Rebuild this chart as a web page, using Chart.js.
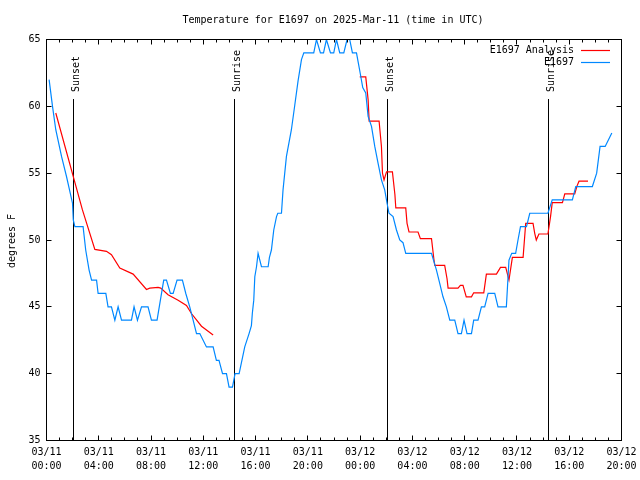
<!DOCTYPE html>
<html>
<head>
<meta charset="utf-8">
<title>Temperature for E1697</title>
<script src="https://cdn.jsdelivr.net/npm/chart.js@4.4.1/dist/chart.umd.min.js"></script>
<style>
  html, body { margin: 0; padding: 0; background: #fff; }
  canvas { display: block; }
</style>
</head>
<body>
<canvas id="chart" width="640" height="480"></canvas>
<script>
// hours since 03/11 00:00 UTC
const obsHours = [0.2, 0.46, 0.71, 1.15, 1.53, 1.99, 2.05, 2.17, 2.8, 3.0, 3.26, 3.45, 3.83, 3.95, 4.54, 4.71, 4.97,
  5.23, 5.48, 5.74, 6.5, 6.7, 6.96, 7.27, 7.77, 8.03, 8.46, 8.97, 9.18, 9.48, 9.69, 9.99, 10.4, 10.66, 10.96,
  11.22, 11.48, 11.73, 12.24, 12.75, 13.0, 13.2, 13.47, 13.77, 13.97, 14.23, 14.43, 14.74, 15.17, 15.5, 15.68,
  15.75, 15.86, 15.94, 16.07, 16.19, 16.45, 16.96, 17.06, 17.21, 17.39, 17.6, 17.7, 17.98, 18.1, 18.36, 18.74,
  19.0, 19.25, 19.51, 19.69, 20.45, 20.66, 20.96, 21.2, 21.42, 21.73, 21.98, 22.19, 22.44, 22.75, 23.0, 23.2,
  23.41, 23.72, 23.85, 24.02, 24.2, 24.43, 24.61, 24.87, 25.12, 25.37, 25.63, 25.88, 26.06, 26.21, 26.52, 26.78,
  27.03, 27.28, 27.49, 29.46, 29.84, 30.09, 30.34, 30.6, 30.86, 31.24, 31.49, 31.75, 31.95, 32.18, 32.52, 32.69,
  33.02, 33.28, 33.53, 33.79, 34.3, 34.55, 35.19, 35.39, 35.6, 35.9, 36.08, 36.27, 36.73, 36.98, 38.37, 38.7,
  40.24, 40.5, 41.77, 42.1, 42.36, 42.75, 43.26];
const obsTemps = [62, 60, 58.25, 56.25, 54.75, 52.75, 51.5, 51, 51, 49.25, 47.75, 47, 47, 46, 46, 45, 45,
  44, 45, 44, 44, 45, 44, 45, 45, 44, 44, 47, 47, 46, 46, 47, 47, 46, 45,
  44, 43, 43, 42, 42, 41, 41, 40, 40, 39, 39, 40, 40, 42, 43, 43.6,
  44.5, 45.5, 47.25, 48, 49, 48, 48, 48.7, 49.25, 50.75, 51.75, 52, 52, 53.75, 56.25, 58.25,
  60.1, 61.9, 63.5, 64, 64, 65, 64, 64, 65, 64, 64, 65, 64, 64, 65, 65,
  64, 64, 63.3, 62.4, 61.4, 61, 59.25, 58.5, 57, 55.75, 54.5, 53.75, 52.75, 52, 51.75, 50.75,
  50, 49.8, 49, 49, 47.75, 46.75, 45.75, 45, 44, 44, 43, 43, 44, 43, 43, 44,
  44, 45, 45, 46, 46, 45, 45, 48.5, 49, 49, 50, 51, 51, 52, 52, 53,
  53, 54, 54, 55, 57, 57, 58];

// analysis series, null marks the gap in the record
const anaHours = [0.71, 2.75, 3.7, 4.59, 4.97, 5.61, 6.63, 7.65, 7.9, 8.54, 8.74, 9.3, 10.07, 10.71, 11.09, 11.86, 12.75,
  18.0,
  23.97, 24.43, 24.61, 24.69, 25.45, 25.63, 25.71, 25.83, 26.02, 26.47, 26.66, 26.73, 27.49, 27.59, 27.74, 28.43,
  28.61, 29.46, 29.64, 29.71, 30.47, 30.65, 30.73, 31.49, 31.67, 31.87, 32.12, 32.52, 32.69, 33.46, 33.66, 34.43,
  34.74, 35.14, 35.39, 35.65, 36.47, 36.67, 37.23, 37.36, 37.48, 37.68, 38.37, 38.57, 38.7, 39.48, 39.66, 40.42,
  40.6, 40.75, 41.44];
const anaTemps = [59.5, 52.25, 49.3, 49.15, 48.9, 47.9, 47.45, 46.3, 46.4, 46.45, 46.4, 45.9, 45.5, 45.1, 44.5, 43.55, 42.9,
  null,
  62.2, 62.2, 60.5, 58.9, 58.9, 57, 55, 54.5, 55.1, 55.1, 53.4, 52.4, 52.4, 51.25, 50.6, 50.6,
  50.1, 50.1, 48.6, 48.1, 48.1, 47.1, 46.4, 46.4, 46.6, 46.6, 45.75, 45.75, 46.05, 46.05, 47.45, 47.45,
  47.95, 47.95, 47, 48.7, 48.7, 51.25, 51.25, 50.5, 50, 50.45, 50.45, 51.75, 52.8, 52.8, 53.45, 53.45,
  54.05, 54.4, 54.4];

const sunHours = [2.07, 14.39, 26.09, 38.41];
const sunLabels = ['Sunset', 'Sunrise', 'Sunset', 'Sunrise'];

const xTickLabels = [
  ['03/11', '00:00'], ['03/11', '04:00'], ['03/11', '08:00'], ['03/11', '12:00'],
  ['03/11', '16:00'], ['03/11', '20:00'], ['03/12', '00:00'], ['03/12', '04:00'],
  ['03/12', '08:00'], ['03/12', '12:00'], ['03/12', '16:00'], ['03/12', '20:00']
];

const FONT = "'DejaVu Sans Mono', 'Liberation Mono', monospace";

function toPoints(xs, ys) {
  return xs.map((x, i) => ({ x: x, y: ys[i] }));
}

const crisp = v => Math.round(v - 0.5) + 0.5;

const gnuplotLook = {
  id: 'gnuplotLook',
  beforeDatasetsDraw(chart) {
    const ctx = chart.ctx;
    const xs = chart.scales.x;
    const area = chart.chartArea;
    ctx.save();
    ctx.strokeStyle = '#000';
    ctx.lineWidth = 1;
    ctx.fillStyle = '#000';
    ctx.font = '10px ' + FONT;
    sunHours.forEach((h, i) => {
      const px = crisp(xs.getPixelForValue(h));
      ctx.beginPath();
      ctx.moveTo(px, 99);
      ctx.lineTo(px, area.bottom);
      ctx.stroke();
      ctx.save();
      ctx.translate(px + 5.5, 92);
      ctx.rotate(-Math.PI / 2);
      ctx.textAlign = 'left';
      ctx.textBaseline = 'alphabetic';
      ctx.fillText(sunLabels[i], 0, 0);
      ctx.restore();
    });
    ctx.restore();
  },
  afterDraw(chart) {
    const ctx = chart.ctx;
    const xs = chart.scales.x;
    const ys = chart.scales.y;
    const a = chart.chartArea;
    ctx.save();
    ctx.strokeStyle = '#000';
    ctx.lineWidth = 1;
    const L = crisp(a.left), R = crisp(a.right), T = crisp(a.top), B = crisp(a.bottom);
    ctx.strokeRect(L, T, R - L, B - T);

    // inward tick marks on all four sides
    ctx.beginPath();
    for (let h = xs.min; h <= xs.max; h++) {
      const px = crisp(xs.getPixelForValue(h));
      const len = h % 4 === 0 ? 5 : 3;
      ctx.moveTo(px, B); ctx.lineTo(px, B - len);
      ctx.moveTo(px, T); ctx.lineTo(px, T + len);
    }
    for (let v = ys.min; v <= ys.max; v += 5) {
      const py = crisp(ys.getPixelForValue(v));
      ctx.moveTo(L, py); ctx.lineTo(L + 5, py);
      ctx.moveTo(R, py); ctx.lineTo(R - 5, py);
    }
    ctx.stroke();

    ctx.fillStyle = '#000';
    ctx.font = '10px ' + FONT;

    // title
    ctx.textAlign = 'center';
    ctx.textBaseline = 'middle';
    ctx.fillText('Temperature for E1697 on 2025-Mar-11 (time in UTC)', 333, 20);

    // y axis title
    ctx.save();
    ctx.translate(15, 241);
    ctx.rotate(-Math.PI / 2);
    ctx.textAlign = 'center';
    ctx.textBaseline = 'alphabetic';
    ctx.fillText('degrees F', 0, 0);
    ctx.restore();

    // key
    chart.data.datasets.forEach((ds, i) => {
      const y = 50 + i * 12;
      ctx.fillStyle = '#000';
      ctx.textAlign = 'right';
      ctx.textBaseline = 'middle';
      ctx.fillText(ds.label, 574, y);
      ctx.strokeStyle = ds.borderColor;
      ctx.lineWidth = 1.2;
      ctx.beginPath();
      ctx.moveTo(581, y + 0.5);
      ctx.lineTo(610, y + 0.5);
      ctx.stroke();
    });
    ctx.restore();
  }
};

new Chart(document.getElementById('chart'), {
  type: 'line',
  data: {
    datasets: [
      {
        label: 'E1697 Analysis',
        data: toPoints(anaHours, anaTemps),
        borderColor: '#ff0000',
        borderWidth: 1.2,
        pointRadius: 0,
        tension: 0,
        spanGaps: false,
        order: 1
      },
      {
        label: 'E1697',
        data: toPoints(obsHours, obsTemps),
        borderColor: '#0088ff',
        borderWidth: 1.2,
        pointRadius: 0,
        tension: 0,
        order: 0
      }
    ]
  },
  options: {
    responsive: false,
    animation: false,
    devicePixelRatio: 1,
    layout: { padding: { top: 39.5, right: 18.5, left: 0, bottom: 0 } },
    plugins: {
      legend: { display: false },
      title: { display: false },
      tooltip: { enabled: false }
    },
    scales: {
      x: {
        type: 'linear',
        min: 0,
        max: 44,
        grid: { display: false, drawTicks: false },
        border: { display: false },
        ticks: {
          stepSize: 4,
          autoSkip: false,
          maxRotation: 0,
          padding: 5,
          color: '#000',
          font: { family: FONT, size: 10, lineHeight: 1.4 },
          callback: (v, i) => xTickLabels[i]
        },
        afterFit: s => {
          s.height = 39.5;
          s.paddingLeft = 0;
          s.paddingRight = 0;
        }
      },
      y: {
        min: 35,
        max: 65,
        grid: { display: false, drawTicks: false },
        border: { display: false },
        ticks: {
          stepSize: 5,
          padding: 6,
          color: '#000',
          font: { family: FONT, size: 10 }
        },
        afterFit: s => {
          s.width = 46.5;
          s.paddingTop = 0;
          s.paddingBottom = 0;
        }
      }
    }
  },
  plugins: [gnuplotLook]
});
</script>
</body>
</html>
